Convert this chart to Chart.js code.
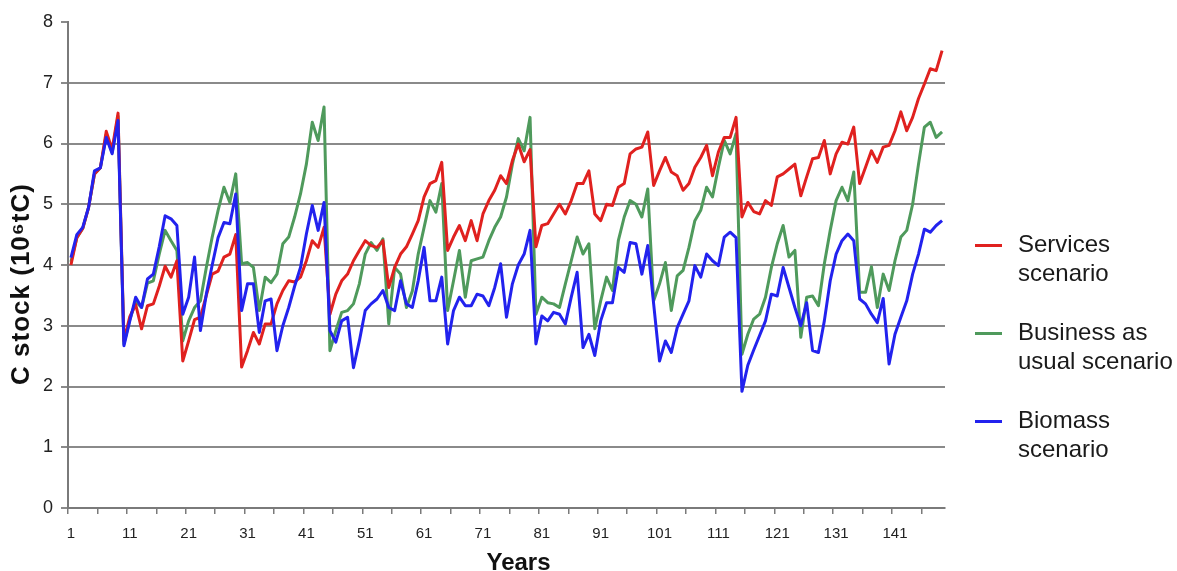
<!DOCTYPE html>
<html>
<head>
<meta charset="utf-8">
<title>C stock by scenario</title>
<script src="https://cdn.jsdelivr.net/npm/chart.js@4.4.1/dist/chart.umd.min.js"></script>
<style>
  html, body { margin: 0; padding: 0; background: #ffffff; }
  #wrap { position: relative; width: 1177px; height: 571px; overflow: hidden; }
  #chart { position: absolute; left: 0; top: 0; }
  .item { position: absolute; left: 975px; width: 200px; height: 60px; }
  .item .swatch { position: absolute; left: 0; top: 15px; width: 27px; height: 3px; }
  .item .txt { position: absolute; left: 43px; top: 0; width: 165px;
               font-family: 'Liberation Sans', Arial, sans-serif; font-size: 24px;
               line-height: 29px; color: #1a1a1a; }
</style>
</head>
<body>
<div id="wrap">
  <canvas id="chart" width="1177" height="571"></canvas>
  <div id="legend"></div>
</div>
<script>
// Simulation years 1..149
const firstYear = 1;
const lastYear = 149;
const years = [];
for (let y = firstYear; y <= lastYear; y++) years.push(String(y));

// Y axis ticks (10^6 tC)
const yTicks = [0, 1, 2, 3, 4, 5, 6, 7, 8];

// Carbon stock per scenario, one value per year
const services = [
  4.00, 4.45, 4.60, 4.95, 5.50, 5.60, 6.20, 5.90, 6.50, 2.75,
  3.15, 3.35, 2.95, 3.33, 3.36, 3.65, 3.98, 3.80, 4.07, 2.42,
  2.75, 3.10, 3.14, 3.50, 3.85, 3.90, 4.13, 4.18, 4.50, 2.32,
  2.59, 2.89, 2.70, 3.03, 3.03, 3.36, 3.58, 3.74, 3.72, 3.80,
  4.07, 4.40, 4.29, 4.62, 3.19, 3.52, 3.74, 3.85, 4.07, 4.24,
  4.40, 4.32, 4.29, 4.40, 3.63, 3.96, 4.18, 4.30, 4.51, 4.73,
  5.12, 5.34, 5.39, 5.69, 4.24, 4.46, 4.65, 4.40, 4.73, 4.40,
  4.84, 5.06, 5.23, 5.47, 5.34, 5.72, 5.99, 5.70, 5.90, 4.30,
  4.65, 4.68, 4.84, 5.00, 4.84, 5.06, 5.34, 5.34, 5.55, 4.84,
  4.73, 5.00, 4.98, 5.28, 5.34, 5.83, 5.91, 5.94, 6.19, 5.31,
  5.55, 5.77, 5.53, 5.47, 5.23, 5.34, 5.61, 5.77, 5.97, 5.47,
  5.86, 6.10, 6.10, 6.43, 4.79, 5.03, 4.88, 4.84, 5.06, 4.98,
  5.45, 5.50, 5.58, 5.66, 5.14, 5.45, 5.75, 5.77, 6.05, 5.50,
  5.83, 6.02, 5.99, 6.27, 5.34, 5.61, 5.88, 5.69, 5.94, 5.97,
  6.21, 6.52, 6.21, 6.43, 6.74, 6.98, 7.23, 7.20, 7.53
];

const businessAsUsual = [
  4.05, 4.45, 4.60, 4.95, 5.50, 5.60, 6.15, 5.85, 6.45, 2.70,
  3.10, 3.40, 3.30, 3.70, 3.74, 4.18, 4.57, 4.40, 4.24, 2.75,
  3.08, 3.30, 3.41, 3.96, 4.46, 4.90, 5.28, 5.03, 5.50, 4.02,
  4.04, 3.96, 3.25, 3.80, 3.71, 3.85, 4.35, 4.46, 4.79, 5.17,
  5.66, 6.35, 6.05, 6.60, 2.59, 2.92, 3.22, 3.25, 3.36, 3.69,
  4.18, 4.37, 4.24, 4.43, 3.03, 3.96, 3.85, 3.30, 3.57, 4.18,
  4.62, 5.06, 4.87, 5.34, 3.25, 3.74, 4.24, 3.47, 4.07, 4.10,
  4.13, 4.40, 4.62, 4.79, 5.12, 5.66, 6.08, 5.88, 6.43, 3.19,
  3.47, 3.38, 3.36, 3.30, 3.69, 4.07, 4.46, 4.18, 4.35, 2.95,
  3.41, 3.80, 3.58, 4.40, 4.79, 5.06, 5.00, 4.79, 5.25, 3.41,
  3.69, 4.04, 3.25, 3.82, 3.91, 4.29, 4.73, 4.90, 5.28, 5.12,
  5.61, 6.05, 5.83, 6.16, 2.53, 2.86, 3.11, 3.19, 3.47, 3.96,
  4.35, 4.65, 4.13, 4.24, 2.81, 3.47, 3.49, 3.33, 4.02, 4.57,
  5.06, 5.28, 5.06, 5.53, 3.55, 3.55, 3.97, 3.30, 3.85, 3.58,
  4.07, 4.46, 4.57, 5.00, 5.66, 6.27, 6.35, 6.10, 6.19
];

const biomass = [
  4.12, 4.50, 4.62, 4.95, 5.55, 5.60, 6.10, 5.83, 6.38, 2.67,
  3.08, 3.47, 3.30, 3.77, 3.85, 4.30, 4.81, 4.76, 4.65, 3.19,
  3.47, 4.13, 2.92, 3.52, 4.00, 4.45, 4.70, 4.68, 5.17, 3.25,
  3.69, 3.69, 2.89, 3.41, 3.44, 2.59, 3.00, 3.30, 3.65, 3.96,
  4.51, 4.98, 4.57, 5.03, 2.92, 2.73, 3.08, 3.14, 2.31, 2.75,
  3.25, 3.36, 3.44, 3.58, 3.30, 3.25, 3.74, 3.36, 3.30, 3.74,
  4.29, 3.41, 3.41, 3.80, 2.70, 3.25, 3.47, 3.33, 3.33, 3.52,
  3.49, 3.33, 3.63, 4.02, 3.14, 3.69, 4.00, 4.18, 4.57, 2.70,
  3.16, 3.08, 3.22, 3.19, 3.03, 3.47, 3.88, 2.64, 2.86, 2.51,
  3.08, 3.38, 3.38, 3.96, 3.88, 4.37, 4.35, 3.85, 4.32, 3.36,
  2.42, 2.75, 2.56, 2.97, 3.19, 3.41, 3.99, 3.80, 4.18, 4.07,
  3.99, 4.46, 4.54, 4.45, 1.92, 2.35, 2.60, 2.84, 3.08, 3.52,
  3.49, 3.96, 3.63, 3.30, 3.00, 3.38, 2.59, 2.56, 3.08, 3.74,
  4.18, 4.40, 4.51, 4.40, 3.44, 3.36, 3.19, 3.05, 3.45, 2.37,
  2.86, 3.14, 3.41, 3.85, 4.18, 4.59, 4.54, 4.65, 4.73
];

const seriesLabels = ['Services scenario', 'Business as usual scenario', 'Biomass scenario'];
const seriesColors = ['#e0211f', '#4f9a5c', '#2222ee'];
const xTitle = 'Years';
const yTitle = 'C stock (10\u2076tC)';

const fontFamily = "'Liberation Sans', Arial, sans-serif";
const gridGray = '#8a8a8a';
const axisGray = '#7a7a7a';

// Axis titles, placed a little off the plot-area centre
const axisTitles = {
  id: 'axisTitles',
  afterDraw(chart) {
    const { ctx, chartArea } = chart;
    const cx = (chartArea.left + chartArea.right) / 2;
    const cy = (chartArea.top + chartArea.bottom) / 2;
    ctx.save();
    ctx.fillStyle = '#111';
    ctx.textAlign = 'center';
    ctx.textBaseline = 'alphabetic';
    ctx.font = 'bold 24px ' + fontFamily;
    ctx.fillText(xTitle, cx + 12, chart.height - 1);
    ctx.translate(29, cy + 19);
    ctx.rotate(-Math.PI / 2);
    ctx.font = 'bold 26px ' + fontFamily;
    ctx.letterSpacing = '1px';
    ctx.fillText(yTitle, 0, 0);
    ctx.restore();
  }
};

const chart = new Chart(document.getElementById('chart'), {
  type: 'line',
  data: {
    labels: years,
    datasets: [
      { label: seriesLabels[0], data: services, borderColor: seriesColors[0], order: 1 },
      { label: seriesLabels[1], data: businessAsUsual, borderColor: seriesColors[1], order: 2 },
      { label: seriesLabels[2], data: biomass, borderColor: seriesColors[2], order: 0 }
    ]
  },
  plugins: [axisTitles],
  options: {
    responsive: false,
    animation: false,
    layout: { padding: { top: 22, right: 232, left: 0, bottom: 0 } },
    plugins: { legend: { display: false }, tooltip: { enabled: false } },
    elements: {
      point: { radius: 0 },
      line: { tension: 0, borderWidth: 3, fill: false, borderJoinStyle: 'round' }
    },
    scales: {
      x: {
        type: 'category',
        offset: true,
        grid: {
          offset: true,
          drawOnChartArea: false,
          drawTicks: true,
          tickLength: 6,
          lineWidth: 1.5,
          color: (ctx) => (ctx.index % 5 === 0 ? axisGray : 'rgba(0,0,0,0)')
        },
        border: { display: true, color: axisGray, width: 2 },
        ticks: {
          autoSkip: false,
          maxRotation: 0,
          minRotation: 0,
          padding: 11,
          color: '#222',
          font: { family: fontFamily, size: 15 },
          callback: (value, index) => (index % 10 === 0 ? years[index] : '')
        },
        title: { display: false },
        afterFit: (scale) => { scale.height = 63; }
      },
      y: {
        min: yTicks[0],
        max: yTicks[yTicks.length - 1],
        afterBuildTicks: (scale) => { scale.ticks = yTicks.map((v) => ({ value: v })); },
        ticks: {
          padding: 8,
          color: '#222',
          font: { family: fontFamily, size: 18 }
        },
        grid: {
          lineWidth: 2,
          tickLength: 7,
          tickColor: gridGray,
          color: (ctx) => (ctx.tick && ctx.tick.value === 8 ? 'rgba(0,0,0,0)' : gridGray)
        },
        border: { display: true, color: axisGray, width: 2 },
        title: { display: false },
        afterFit: (scale) => { scale.width = 68; }
      }
    }
  }
});

// Legend on the right, built from the datasets
const legendTops = [229, 317, 405];
const legendEl = document.getElementById('legend');
chart.data.datasets.forEach((ds, i) => {
  const item = document.createElement('div');
  item.className = 'item';
  item.style.top = legendTops[i] + 'px';
  const sw = document.createElement('div');
  sw.className = 'swatch';
  sw.style.background = ds.borderColor;
  const txt = document.createElement('div');
  txt.className = 'txt';
  txt.textContent = ds.label;
  item.appendChild(sw);
  item.appendChild(txt);
  legendEl.appendChild(item);
});
</script>
</body>
</html>
